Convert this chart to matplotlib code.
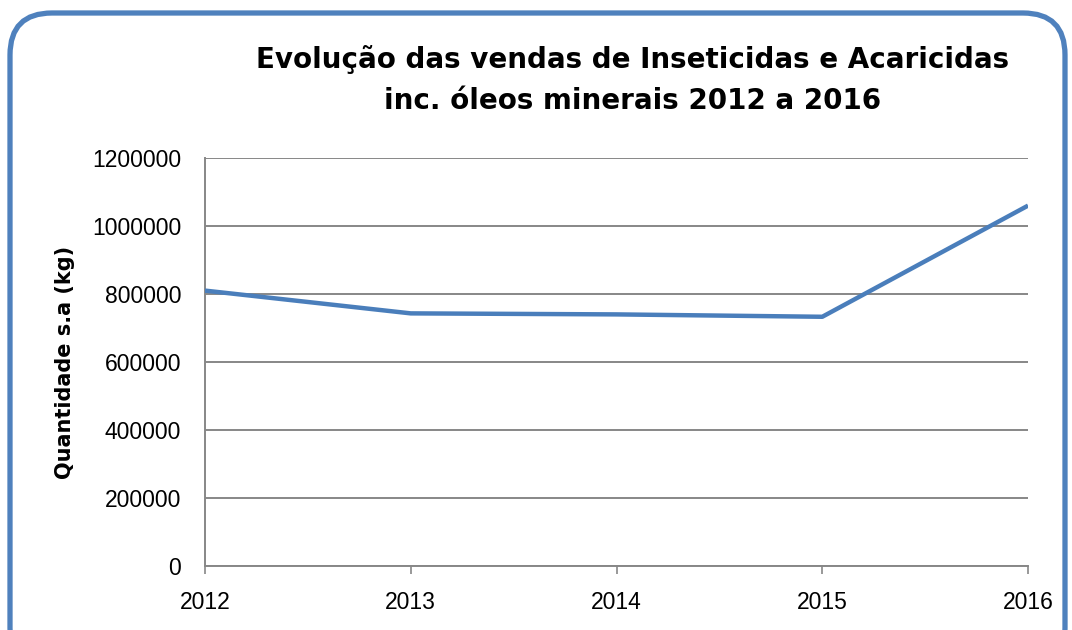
import matplotlib
matplotlib.use('Agg')
import matplotlib.pyplot as plt
import matplotlib.patches as mpatches
from matplotlib.transforms import IdentityTransform
from matplotlib.ticker import FixedLocator

# dados
anos = ['2012', '2013', '2014', '2015', '2016']
quantidade = [810000, 743000, 740000, 733000, 1060000]
y_ticks = [0, 200000, 400000, 600000, 800000, 1000000, 1200000]

fig = plt.figure(figsize=(10.72, 6.3), dpi=100)
ax = fig.add_axes([0.1912, 0.1016, 0.7678, 0.6476])

x = list(range(len(anos)))
ax.plot(x, quantidade, color='#4A7EBB', linewidth=3.2, solid_capstyle='butt', zorder=3)

# eixos
ax.set_xlim(0, len(anos) - 1)
ax.set_ylim(0, 1200000)
ax.yaxis.set_major_locator(FixedLocator(y_ticks))
ax.set_yticklabels([str(v) for v in y_ticks])
ax.set_xticks(x)
ax.set_xticklabels(anos)
ax.grid(axis='y', color='#878787', linewidth=1.4, zorder=1)
for s in ['top', 'right']:
    ax.spines[s].set_visible(False)
for s in ['left', 'bottom']:
    ax.spines[s].set_color('#878787')
    ax.spines[s].set_linewidth(1.4)
ax.tick_params(axis='x', direction='out', length=6, color='#878787', width=1.2, pad=12,
               labelsize=16.5)
ax.tick_params(axis='y', length=0, pad=17, labelsize=16.5)
for lab in ax.get_xticklabels() + ax.get_yticklabels():
    lab.set_fontfamily('Liberation Sans')

ax.set_ylabel('Quantidade s.a (kg)', fontsize=15, fontweight='bold', labelpad=12)

# titulo
fig.text(0.59, 0.873, 'Evolução das vendas de Inseticidas e Acaricidas\ninc. óleos minerais 2012 a 2016',
         ha='center', va='center', fontsize=20, fontweight='bold', linespacing=1.6)

# moldura arredondada
box = mpatches.FancyBboxPatch((10, -40), 1055, 657,
                              boxstyle='round,pad=0,rounding_size=42',
                              transform=IdentityTransform(), facecolor='none',
                              edgecolor='#4F81BD', linewidth=3.8)
fig.patches.append(box)

plt.savefig('out.png', dpi=100)
plt.close()
